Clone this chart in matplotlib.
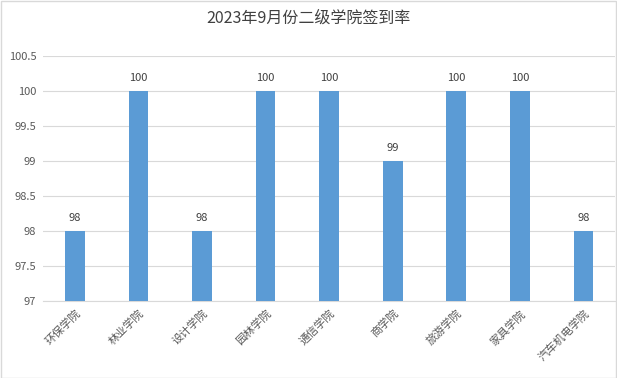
import matplotlib.pyplot as plt
from matplotlib.patches import Rectangle

plt.rcParams['font.family'] = ['Noto Sans CJK SC', 'DejaVu Sans']

# ====== DADOS ======
colleges = ["环保学院", "林业学院", "设计学院", "园林学院", "通信学院",
            "商学院", "旅游学院", "家具学院", "汽车机电学院"]
rates = [98, 100, 98, 100, 100, 99, 100, 100, 98]
yticks = [97, 97.5, 98, 98.5, 99, 99.5, 100, 100.5]
ytick_labels = ["97", "97.5", "98", "98.5", "99", "99.5", "100", "100.5"]

# ====== GRÁFICO ======
fig = plt.figure(figsize=(6.17, 3.78), dpi=100)
ax = fig.add_axes([0.07, 0.204, 0.927, 0.648])

x = range(len(colleges))
ax.bar(x, rates, width=0.31, color="#5B9BD5", zorder=3)

for i, v in enumerate(rates):
    ax.text(i, v + 0.12, str(v), ha="center", va="bottom", fontsize=8, color="#404040")

ax.set_ylim(97, 100.5)
ax.set_xlim(-0.5, len(colleges) - 0.5)
ax.set_yticks(yticks)
ax.set_yticklabels(ytick_labels, fontsize=8, color="#595959")
ax.set_xticks(list(x))
ax.set_xticklabels(colleges, rotation=45, ha="right", rotation_mode="anchor",
                   fontsize=8, color="#595959")
ax.tick_params(axis="both", length=0, pad=5)
ax.grid(axis="y", color="#D9D9D9", linewidth=0.8, zorder=0)
for s in ["top", "right", "left"]:
    ax.spines[s].set_visible(False)
ax.spines["bottom"].set_color("#D9D9D9")

fig.suptitle("2023年9月份二级学院签到率", fontsize=11.5, color="#404040", y=0.975)

fig.patches.append(Rectangle((0.001, 0.001), 0.997, 0.996, transform=fig.transFigure,
                             fill=False, edgecolor="#D9D9D9", linewidth=1))

plt.savefig("out.png", dpi=100)
